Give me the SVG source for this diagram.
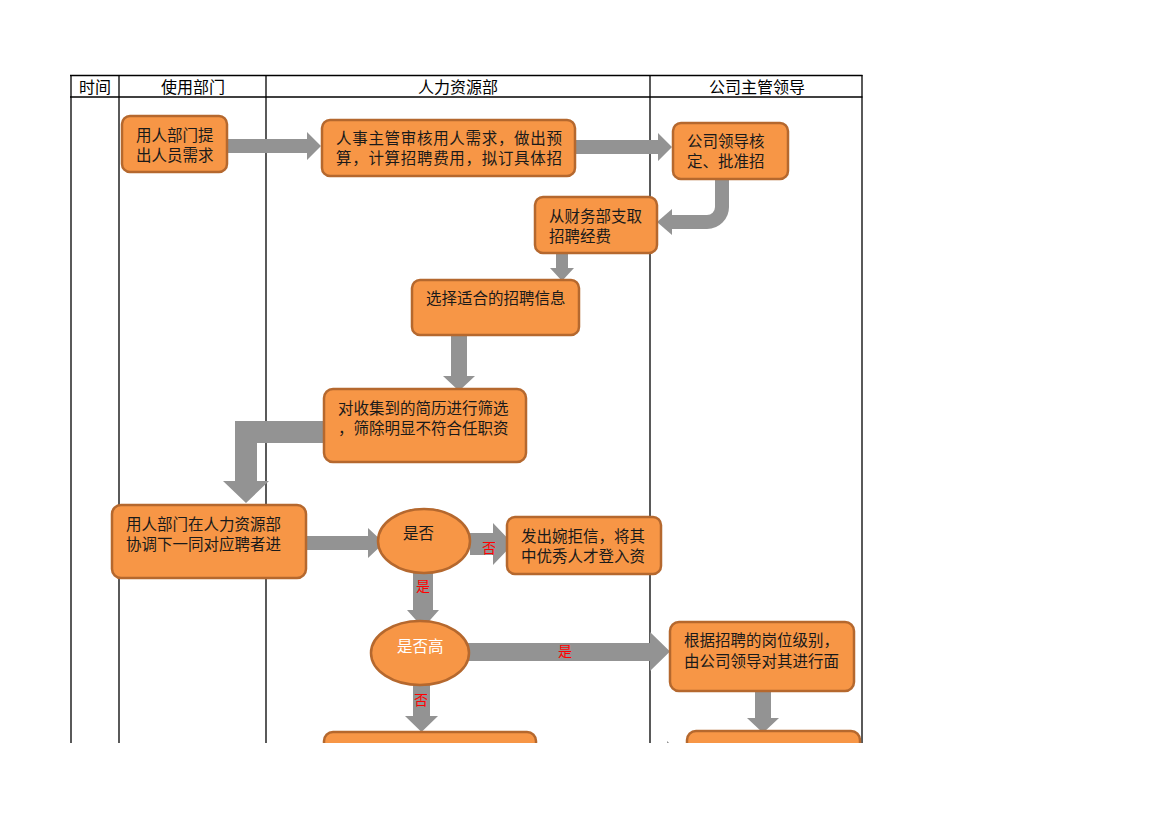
<svg xmlns="http://www.w3.org/2000/svg" width="1170" height="827" viewBox="0 0 1170 827">
<defs>
<clipPath id="page"><rect x="0" y="0" width="1170" height="743"/></clipPath>
<style>
.grid{stroke:#000;stroke-width:1.3;fill:none}
.hd{font-family:"Noto Sans CJK SC","Liberation Sans",sans-serif;font-size:16px;fill:#000;text-anchor:middle}
.box{fill:#F79646;stroke:#B5682E;stroke-width:2.5}
.t{font-family:"Noto Sans CJK SC",sans-serif;font-size:15.5px;fill:#1a1a1a}
.tw{font-family:"Noto Sans CJK SC",sans-serif;font-size:15.5px;fill:#ffffff}
.arr{fill:#939393;stroke:none}
.lbl{font-family:"Noto Sans CJK SC",sans-serif;font-size:14px;fill:#ff0000;text-anchor:middle}
</style>
</defs>
<rect x="0" y="0" width="1170" height="827" fill="#fff"/>
<g clip-path="url(#page)">
<g id="table">
<line class="grid" x1="70" y1="75.5" x2="862.5" y2="75.5"/>
<line class="grid" x1="70" y1="97" x2="862.5" y2="97"/>
<line class="grid" x1="71" y1="75" x2="71" y2="760"/>
<line class="grid" x1="119" y1="75" x2="119" y2="760"/>
<line class="grid" x1="266" y1="75" x2="266" y2="760"/>
<line class="grid" x1="650" y1="75" x2="650" y2="760"/>
<line class="grid" x1="862" y1="75" x2="862" y2="760"/>
<text class="hd" x="95" y="93">时间</text>
<text class="hd" x="193" y="93">使用部门</text>
<text class="hd" x="458" y="93">人力资源部</text>
<text class="hd" x="757" y="93">公司主管领导</text>
</g>
<g id="connectors">
<polygon class="arr" points="227,139 307,139 307,132 321,146 307,160 307,153 227,153"/>
<polygon class="arr" points="575,140 658,140 658,133 672,147 658,161 658,154 575,154"/>
<path d="M722,179 V207 A15,15 0 0 1 707,222 H671" fill="none" stroke="#939393" stroke-width="14"/>
<polygon class="arr" points="672,209 657,222 672,235"/>
<polygon class="arr" points="556,253 568,253 568,268 574,268 562,281 550,268 556,268"/>
<polygon class="arr" points="451,335 467,335 467,376 475,376 459,391 443,376 451,376"/>
<polygon class="arr" points="324,421 235,421 235,481 223,481 246,503 269,481 257,481 257,443 324,443"/>
<polygon class="arr" points="306,536 368,536 368,528 384,543 368,558 368,550 306,550"/>
<polygon class="arr" points="470,533 493,533 493,523 513,544 493,565 493,555 470,555"/>
<polygon class="arr" points="413,572 433,572 433,610 439,610 423,628 407,610 413,610"/>
<polygon class="arr" points="468,643 650,643 650,632 670,651.5 650,671 650,661 468,661"/>
<polygon class="arr" points="413,684 430,684 430,716 438,716 421.5,732 405,716 413,716"/>
<polygon class="arr" points="755,691 771,691 771,718 779,718 763,733 747,718 755,718"/>
<polygon class="arr" points="536,753 667,753 667,741 687,760 667,779 667,767 536,767"/>
<text class="lbl" x="489" y="553">否</text>
<text class="lbl" x="423" y="591">是</text>
<text class="lbl" x="565" y="656">是</text>
<text class="lbl" x="421" y="705">否</text>
</g>
<g id="n1"><rect class="box" x="122" y="116" width="105" height="56" rx="8"/><text class="t" x="136" y="141">用人部门提</text><text class="t" x="136" y="161">出人员需求</text></g>
<g id="n2"><rect class="box" x="322" y="120" width="253" height="56" rx="8"/><text class="t" x="336" y="144" textLength="226">人事主管审核用人需求，做出预</text><text class="t" x="336" y="164" textLength="226">算，计算招聘费用，拟订具体招</text></g>
<g id="n3"><rect class="box" x="673" y="123" width="115" height="56" rx="8"/><text class="t" x="687" y="147">公司领导核</text><text class="t" x="687" y="167">定、批准招</text></g>
<g id="n4"><rect class="box" x="535" y="197" width="122" height="56" rx="8"/><text class="t" x="549" y="222">从财务部支取</text><text class="t" x="549" y="242">招聘经费</text></g>
<g id="n5"><rect class="box" x="412" y="280" width="167" height="55" rx="8"/><text class="t" x="426" y="304">选择适合的招聘信息</text></g>
<g id="n6"><rect class="box" x="324" y="389" width="202" height="73" rx="9"/><text class="t" x="338" y="414">对收集到的简历进行筛选</text><text class="t" x="338" y="434">，筛除明显不符合任职资</text></g>
<g id="n7"><rect class="box" x="112" y="505" width="194" height="73" rx="9"/><text class="t" x="126" y="530">用人部门在人力资源部</text><text class="t" x="126" y="550">协调下一同对应聘者进</text></g>
<g id="n8"><ellipse class="box" cx="424" cy="541" rx="46" ry="32"/><text class="t" x="403" y="539">是否</text></g>
<g id="n9"><rect class="box" x="507" y="517" width="154" height="57" rx="8"/><text class="t" x="521" y="542">发出婉拒信，将其</text><text class="t" x="521" y="562">中优秀人才登入资</text></g>
<g id="n10"><ellipse class="box" cx="420" cy="653" rx="49" ry="32"/><text class="tw" x="397" y="652">是否高</text></g>
<g id="n11"><rect class="box" x="670" y="622" width="184" height="69" rx="9"/><text class="t" x="684" y="646">根据招聘的岗位级别，</text><text class="t" x="684" y="667">由公司领导对其进行面</text></g>
<g id="n12"><rect class="box" x="324" y="732" width="212" height="60" rx="9"/></g>
<g id="n13"><rect class="box" x="687" y="731" width="173" height="60" rx="9"/></g>
</g>
</svg>
